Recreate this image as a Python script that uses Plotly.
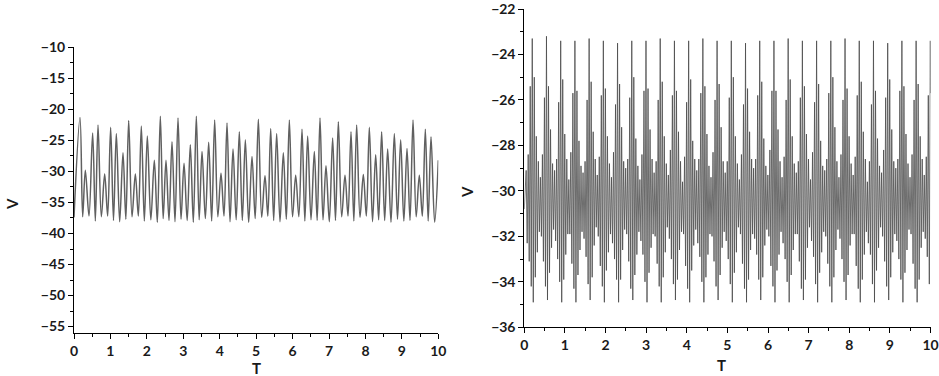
import numpy as np
import plotly.graph_objects as go

# ---------------- data: left panel (peaks/troughs) ----------------
left_peak_t = [0.165, 0.311, 0.512, 0.659, 0.842, 1.006, 1.162, 1.345, 1.501, 1.684,
               1.848, 2.013, 2.205, 2.370, 2.525, 2.690, 2.855, 3.020, 3.193, 3.358,
               3.514, 3.697, 3.861, 4.035, 4.200, 4.365, 4.538, 4.703, 4.886,
               5.060, 5.243, 5.399, 5.563, 5.746, 5.911, 6.085, 6.259, 6.414, 6.597,
               6.753, 6.917, 7.100, 7.256, 7.439, 7.604, 7.759, 7.942, 8.107, 8.281,
               8.445, 8.610, 8.793, 8.967, 9.141, 9.306, 9.479, 9.644, 9.800]
left_peak_v = [-21.3, -29.8, -23.8, -22.5, -30.4, -22.9, -23.9, -27.0, -21.8, -30.4,
               -22.7, -24.3, -28.2, -21.1, -28.2, -25.2, -21.4, -28.7, -25.7, -21.1,
               -26.8, -25.3, -21.7, -30.3, -22.2, -26.4, -23.6, -24.9, -27.6,
               -21.6, -30.7, -23.1, -23.9, -27.0, -21.7, -30.6, -23.2, -24.3, -26.8,
               -21.4, -29.1, -24.6, -22.0, -30.6, -23.6, -22.5, -30.5, -22.9, -27.3,
               -23.6, -26.4, -23.9, -24.9, -26.3, -21.7, -30.6, -23.2, -24.4]
left_trough_v = [-37.3, -37.2, -38.0, -37.3, -37.2, -37.9, -38.1, -37.7, -37.3, -37.2,
                 -38.0, -37.8, -38.2, -37.6, -37.9, -38.1, -37.7, -37.9, -38.2, -37.8,
                 -37.6, -38.0, -37.3, -37.2, -38.1, -37.8, -37.9, -38.2, -37.6,
                 -37.4, -37.2, -37.9, -38.1, -37.7, -37.3, -37.3, -38.0, -37.8, -37.9,
                 -37.8, -38.1, -37.9, -37.3, -37.2, -38.0, -37.4, -37.2, -38.1, -37.8,
                 -37.9, -38.2, -37.7, -38.0, -37.9, -37.3, -37.2, -38.0, -38.2]
left_start = (0.0, -37.4)
left_end = (10.0, -28.2)

# ---------------- data: right panel (one row per envelope cycle) ----------------
right_first_tall_t = 0.196
right_cycle_t = 0.35
right_lead_peaks = [-29.1, -28.4, -25.4]
right_lead_troughs = [-32.3, -33.1, -34.2]
right_peaks = [
    [-23.3, -25.0, -27.6, -28.7, -29.4, -28.4, -25.9],
    [-23.2, -25.4, -27.3, -28.8, -29.1, -28.6, -26.1],
    [-23.4, -25.1, -27.5, -28.6, -29.5, -28.3, -25.7],
    [-23.4, -25.6, -27.8, -28.9, -29.2, -28.7, -26.0],
    [-23.3, -25.2, -27.4, -28.6, -29.3, -28.5, -25.8],
    [-23.4, -25.5, -27.6, -28.8, -29.4, -28.3, -26.2],
    [-23.5, -25.3, -27.2, -28.7, -29.0, -28.6, -25.9],
    [-23.4, -25.0, -27.7, -28.9, -29.5, -28.4, -25.6],
    [-23.4, -25.5, -27.3, -28.6, -29.2, -28.7, -26.0],
    [-23.3, -25.2, -27.6, -28.8, -29.3, -28.2, -25.8],
    [-23.4, -25.6, -27.4, -28.7, -29.6, -28.5, -26.1],
    [-23.4, -25.1, -27.8, -28.6, -29.1, -28.6, -25.7],
    [-23.3, -25.4, -27.5, -28.9, -29.4, -28.3, -26.0],
    [-23.4, -25.3, -27.2, -28.7, -29.2, -28.7, -25.9],
    [-23.4, -25.0, -27.6, -28.8, -29.5, -28.4, -26.2],
    [-23.5, -25.5, -27.4, -28.6, -29.0, -28.6, -25.8],
    [-23.4, -25.2, -27.7, -28.9, -29.3, -28.2, -25.6],
    [-23.4, -25.6, -27.3, -28.7, -29.4, -28.5, -26.0],
    [-23.3, -25.1, -27.6, -28.8, -29.2, -28.7, -25.9],
    [-23.4, -25.4, -27.5, -28.6, -29.5, -28.3, -26.1],
    [-23.4, -25.3, -27.8, -28.9, -29.1, -28.6, -25.7],
    [-23.4, -25.0, -27.2, -28.7, -29.4, -28.4, -26.0],
    [-23.3, -25.5, -27.6, -28.8, -29.3, -28.5, -25.8],
    [-23.4, -25.2, -27.4, -28.6, -29.6, -28.7, -26.2],
    [-23.4, -25.6, -27.7, -28.9, -29.2, -28.2, -25.9],
    [-23.5, -25.1, -27.3, -28.7, -29.0, -28.6, -25.6],
    [-23.4, -25.4, -27.5, -28.8, -29.4, -28.4, -26.0],
    [-23.4, -25.3, -27.6, -28.6, -29.3, -28.5, -25.8],
]
right_troughs = [
    [-34.9, -33.8, -32.7, -31.8, -32.0, -33.1, -34.2],
    [-34.8, -33.6, -32.5, -31.7, -32.2, -33.0, -34.0],
    [-34.9, -33.9, -32.8, -31.9, -31.9, -33.2, -34.3],
    [-34.9, -33.7, -32.6, -31.8, -32.1, -32.9, -34.1],
    [-34.8, -33.8, -32.4, -31.6, -32.0, -33.3, -34.2],
    [-34.9, -33.5, -32.7, -31.9, -32.3, -33.0, -33.9],
    [-34.9, -33.9, -32.6, -31.7, -31.9, -33.1, -34.3],
    [-34.8, -33.7, -32.8, -31.8, -32.2, -32.8, -34.0],
    [-34.9, -33.6, -32.5, -31.9, -32.0, -33.2, -34.2],
    [-34.9, -33.8, -32.7, -31.6, -32.1, -33.0, -34.1],
    [-34.8, -33.9, -32.6, -31.8, -31.9, -33.3, -34.3],
    [-34.9, -33.5, -32.4, -31.7, -32.3, -32.9, -34.0],
    [-34.9, -33.8, -32.8, -31.9, -32.0, -33.1, -34.2],
    [-34.8, -33.7, -32.5, -31.8, -32.2, -33.0, -34.1],
    [-34.9, -33.6, -32.7, -31.6, -31.9, -33.2, -34.3],
    [-34.9, -33.9, -32.6, -31.9, -32.1, -32.8, -33.9],
    [-34.8, -33.8, -32.4, -31.7, -32.0, -33.3, -34.2],
    [-34.9, -33.5, -32.8, -31.8, -32.3, -33.0, -34.0],
    [-34.9, -33.7, -32.6, -31.9, -31.9, -33.1, -34.3],
    [-34.8, -33.9, -32.5, -31.6, -32.2, -32.9, -34.1],
    [-34.9, -33.6, -32.7, -31.8, -32.0, -33.2, -34.2],
    [-34.9, -33.8, -32.6, -31.7, -32.1, -33.0, -34.0],
    [-34.8, -33.7, -32.4, -31.9, -31.9, -33.3, -34.3],
    [-34.9, -33.9, -32.8, -31.8, -32.3, -32.8, -34.1],
    [-34.9, -33.5, -32.5, -31.6, -32.0, -33.1, -34.2],
    [-34.8, -33.8, -32.7, -31.9, -32.2, -33.0, -33.9],
    [-34.9, -33.6, -32.6, -31.7, -31.9, -33.2, -34.3],
    [-34.9, -33.9, -32.5, -31.8, -32.1, -32.9, -34.1],
]
right_final_tall = -23.4
right_start = (0.0, -30.8)
right_end = (10.0, -25.7)

left_yticks = [-55, -50, -45, -40, -35, -30, -25, -20, -15, -10]
right_yticks = [-36, -34, -32, -30, -28, -26, -24, -22]
x_ticks = list(range(0, 11))

# ---------------- assemble series ----------------
lx, ly = [left_start[0]], [left_start[1]]
for i, (t, v) in enumerate(zip(left_peak_t, left_peak_v)):
    lx.append(t); ly.append(v)
    if i + 1 < len(left_peak_t):
        tt = (t + left_peak_t[i + 1]) / 2
    else:
        tt = (t + left_end[0]) / 2
    lx.append(tt); ly.append(left_trough_v[i])
lx.append(left_end[0]); ly.append(left_end[1])

osc = right_cycle_t / len(right_peaks[0])
rx, ry = [right_start[0]], [right_start[1]]
n_lead = len(right_lead_peaks)
for j in range(n_lead):
    tp = right_first_tall_t - (n_lead - j) * osc
    rx += [tp, tp + osc / 2]; ry += [right_lead_peaks[j], right_lead_troughs[j]]
for k, (pk, tr) in enumerate(zip(right_peaks, right_troughs)):
    for i in range(len(pk)):
        tp = right_first_tall_t + k * right_cycle_t + i * osc
        rx += [tp, tp + osc / 2]; ry += [pk[i], tr[i]]
rx.append(right_first_tall_t + len(right_peaks) * right_cycle_t); ry.append(right_final_tall)
rx.append(right_end[0]); ry.append(right_end[1])

fig = go.Figure()
fig.add_trace(go.Scatter(x=lx, y=ly, mode="lines", xaxis="x", yaxis="y",
                         line=dict(color="#606060", width=1.5, shape="spline", smoothing=1.0),
                         showlegend=False, hoverinfo="skip"))
fig.add_trace(go.Scatter(x=rx, y=ry, mode="lines", xaxis="x2", yaxis="y2",
                         line=dict(color="#4a4a4a", width=0.8),
                         showlegend=False, hoverinfo="skip"))

W, H = 939, 376
tickfont = dict(family="Lato", size=14, color="#1a1a1a", weight="bold")
common = dict(showgrid=False, zeroline=False, showline=True, linecolor="black", linewidth=1,
              ticks="outside", ticklen=5, tickwidth=1, tickcolor="black", tickfont=tickfont,
              automargin=False, ticklabeloverflow="allow")

fig.update_layout(
    width=W, height=H, margin=dict(l=0, r=0, t=0, b=0, autoexpand=False),
    paper_bgcolor="white", plot_bgcolor="white",
    xaxis=dict(domain=[74 / W, 438.3 / W], range=[0, 10], tickvals=x_ticks, anchor="y",
               minor=dict(dtick=0.5, ticklen=3, ticks="outside", tickcolor="black"), **common),
    yaxis=dict(domain=[1 - 332.8 / H, 1 - 47.3 / H], range=[-56, -10], tickvals=left_yticks,
               anchor="x", minor=dict(dtick=2.5, ticklen=3, ticks="outside", tickcolor="black"),
               **common),
    xaxis2=dict(domain=[524.3 / W, 930.5 / W], range=[0, 10], tickvals=x_ticks, anchor="y2",
                minor=dict(dtick=0.5, ticklen=3, ticks="outside", tickcolor="black"), **common),
    yaxis2=dict(domain=[1 - 327.3 / H, 1 - 9 / H], range=[-36, -22], tickvals=right_yticks,
                anchor="x2", minor=dict(dtick=1, ticklen=3, ticks="outside", tickcolor="black"),
                **common),
)

titlefont = dict(family="Lato", size=15, color="#1a1a1a", weight="bold")
for txt, px, py, ang in [("V", 12, 204, -90), ("T", 256, 368, 0),
                         ("V", 467, 192, -90), ("T", 721, 365, 0)]:
    fig.add_annotation(text=txt, x=px / W, y=1 - py / H, xref="paper", yref="paper",
                       showarrow=False, textangle=ang, font=titlefont,
                       xanchor="center", yanchor="middle")

fig.write_html("out.html", config={"displayModeBar": False},
               post_script="document.body.style.margin='0';document.body.style.padding='0';")
